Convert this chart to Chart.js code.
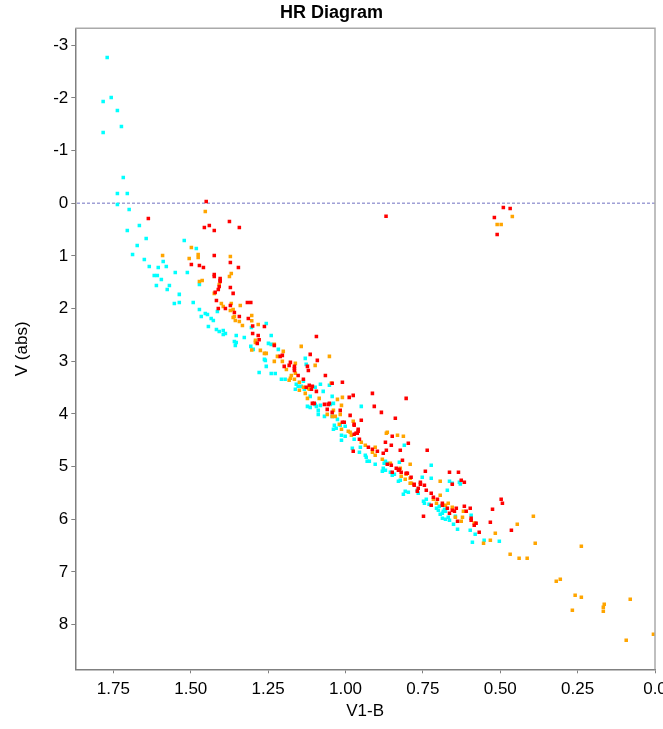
<!DOCTYPE html>
<html><head><meta charset="utf-8">
<script src="https://cdn.jsdelivr.net/npm/chart.js@4.4.0/dist/chart.umd.min.js"></script>
<style>html,body{margin:0;padding:0;background:#fff}#wrap{width:663px;height:729px;position:relative}</style>
</head><body><div id="wrap"><canvas id="c"></canvas></div>
<script>
const cyanX=[1.770,1.757,1.783,1.737,1.724,1.783,1.718,1.737,1.705,1.737,1.699,1.705,
1.666,1.644,1.673,1.521,1.482,1.688,1.650,1.589,1.634,1.605,1.579,1.550,1.511,1.618,1.608,1.595,1.472,1.611,1.569,1.576,1.537,1.553,1.537,1.492,1.472,1.466,1.453,1.446,1.434,1.427,1.414,1.443,1.417,1.408,1.395,1.395,1.388,1.353,1.327,1.359,1.353,1.356,
1.256,1.304,1.240,1.249,1.240,1.298,1.306,1.217,1.262,1.259,1.256,1.130,1.127,1.279,1.240,1.227,1.207,1.195,1.136,1.159,1.153,1.143,1.162,1.133,1.081,1.052,1.072,1.098,1.114,1.043,1.123,1.114,1.098,1.094,1.081,1.049,1.039,1.088,1.088,1.068,1.043,1.026,0.949,1.036,1.030,1.039,1.017,1.001,1.013,1.001,1.013,0.972,0.978,0.955,0.952,0.936,0.933,0.923,0.930,0.904,
0.810,0.875,0.871,0.865,0.881,0.878,0.871,0.826,0.855,0.842,0.849,0.829,0.823,0.723,0.752,0.723,0.664,0.655,0.632,0.768,0.765,0.807,0.797,0.813,0.671,0.748,0.739,0.745,0.730,0.706,0.700,0.697,0.680,0.684,0.677,0.694,0.687,0.687,0.677,0.664,0.668,0.645,0.651,0.638,
0.629,0.594,0.597,0.581,0.590,0.552,0.503];
const cyanY=[-2.765,-2.006,-1.930,-1.759,-1.455,-1.342,-0.488,-0.184,-0.184,0.025,0.120,0.518,
0.423,0.670,0.803,0.708,0.860,0.973,1.068,1.106,1.201,1.220,1.201,1.315,1.315,1.372,1.372,1.448,1.543,1.562,1.562,1.638,1.732,1.903,1.884,1.884,2.017,2.150,2.093,2.112,2.188,2.226,2.055,2.340,2.397,2.435,2.416,2.492,2.473,2.511,2.549,2.625,2.644,2.700,
2.283,2.359,2.511,2.662,2.681,2.776,2.719,2.776,2.966,2.985,3.099,2.947,3.061,3.213,3.232,3.232,3.345,3.345,3.383,3.440,3.478,3.478,3.535,3.535,3.440,3.459,3.573,3.497,3.668,3.668,3.858,3.877,3.820,3.858,3.839,3.820,3.801,3.934,4.010,4.048,4.048,4.105,3.858,4.218,4.275,4.294,4.218,4.237,4.408,4.427,4.503,4.484,4.655,4.731,4.636,4.788,4.826,4.901,4.901,4.958,
4.598,4.939,4.901,4.939,5.091,5.034,5.072,4.920,5.110,5.148,5.167,5.281,5.262,4.977,5.205,5.224,5.281,5.319,5.300,5.452,5.509,5.471,5.490,5.528,5.452,5.660,5.622,5.698,5.717,5.793,5.831,5.755,5.812,5.850,5.850,5.907,5.888,5.983,6.002,6.021,5.964,5.945,6.097,6.192,
5.332,5.926,6.211,6.287,6.438,6.401,6.419];

const orangeX=[1.453,1.498,1.591,1.505,1.476,1.476,1.372,1.369,1.375,1.472,1.463,1.408,1.424,1.401,1.395,1.369,1.340,1.363,1.372,1.359,1.363,1.356,1.343,1.333,
1.303,1.303,1.282,1.291,1.291,1.303,1.275,1.262,1.256,1.230,1.201,1.143,1.220,1.230,1.204,1.162,1.052,1.098,1.191,1.175,1.178,1.182,1.165,1.162,1.149,1.149,1.136,1.130,1.120,1.117,1.046,1.123,1.085,1.026,1.010,1.013,1.039,1.059,1.017,1.043,1.033,0.975,1.020,1.013,0.991,0.985,0.981,0.949,0.936,0.904,0.904,0.913,
0.868,0.865,0.832,0.813,0.881,0.855,0.823,0.791,0.804,0.820,0.807,0.791,0.791,0.787,0.694,0.694,0.716,0.668,0.706,0.655,0.677,0.645,
0.619,0.622,0.626,0.584,0.581,0.393,0.445,0.516,0.532,0.554,0.387,0.238,0.468,0.439,0.413,0.319,0.306,0.258,0.238,0.267,0.164,0.167,0.167,0.080,0.005,0.093,
0.461,0.510,0.497];
const orangeY=[0.158,0.841,0.992,1.049,0.973,1.030,1.011,1.334,1.391,1.486,1.467,1.543,1.713,1.903,1.960,1.903,1.941,2.017,2.036,2.150,2.169,2.226,2.245,2.321,
2.131,2.233,2.302,2.605,2.643,2.789,2.795,2.852,2.852,2.681,2.814,2.719,2.909,3.004,3.004,3.042,2.909,3.080,3.156,3.270,3.326,3.364,3.345,3.231,3.402,3.554,3.497,3.611,3.516,3.535,3.421,3.706,3.706,3.725,3.687,3.839,3.934,4.010,4.010,4.048,4.048,4.142,4.199,4.294,4.332,4.351,4.408,4.541,4.598,4.636,4.788,4.731,
4.370,4.351,4.408,4.427,4.864,4.939,5.034,4.958,5.148,5.186,5.243,5.224,5.319,5.319,5.281,5.546,5.622,5.698,5.698,5.774,5.736,5.964,
5.850,5.964,6.040,6.078,6.078,5.945,6.097,6.268,6.401,6.457,6.457,6.514,6.666,6.742,6.742,7.178,7.140,7.444,7.482,7.729,7.615,7.672,7.748,7.520,8.184,8.298,
0.252,0.404,0.404];

const redX=[1.450,1.637,1.375,1.456,1.440,1.343,1.424,1.424,1.372,1.498,1.472,1.459,1.346,1.424,1.424,1.405,1.405,1.405,1.408,1.372,1.411,1.421,1.363,1.417,1.372,1.411,1.388,1.317,1.359,1.343,1.314,
1.306,1.300,1.262,1.300,1.282,1.279,1.285,1.230,1.094,1.114,1.204,1.211,1.091,1.178,1.182,1.198,1.165,1.165,1.165,1.123,1.153,1.120,1.065,1.136,1.010,1.043,1.117,1.107,1.110,1.127,1.094,0.913,0.975,0.988,0.804,1.107,1.101,1.068,1.056,1.052,0.907,1.059,1.043,1.017,0.985,0.884,0.949,1.010,1.004,0.972,0.972,0.839,0.959,0.959,0.962,0.972,0.966,0.955,0.926,0.913,0.897,0.975,
0.869,
0.849,0.797,0.871,0.852,0.868,0.878,0.823,0.736,0.816,0.865,0.852,0.836,0.829,0.820,0.826,0.804,0.800,0.788,0.849,0.742,0.664,0.635,0.758,0.758,0.778,0.778,0.745,0.765,0.768,0.739,0.723,0.716,0.703,0.655,0.687,0.687,0.723,0.671,0.655,0.648,0.642,0.664,0.638,0.748,
0.490,0.468,0.519,0.510,0.626,0.616,0.497,0.493,0.616,0.597,0.525,0.610,0.594,0.594,0.578,0.584,0.532,0.464,0.568];
const redY=[-0.032,0.290,0.347,0.461,0.423,0.461,0.518,0.992,1.125,1.163,1.182,1.220,1.220,1.353,1.391,1.429,1.467,1.486,1.581,1.600,1.638,1.694,1.713,1.846,1.941,1.998,1.998,1.884,2.074,2.150,2.188,
1.884,2.334,2.340,2.473,2.511,2.593,2.662,2.700,2.530,2.871,2.890,2.909,2.985,3.023,3.080,3.099,3.099,3.137,3.175,3.099,3.270,3.175,3.270,3.345,3.402,3.421,3.459,3.478,3.535,3.497,3.573,3.611,3.649,3.687,3.706,3.801,3.801,3.820,3.820,3.801,3.858,3.915,3.972,3.934,4.029,3.972,4.123,4.161,4.161,4.199,4.218,4.085,4.294,4.332,4.370,4.389,4.370,4.484,4.636,4.674,4.712,4.712,
0.250,
4.427,4.560,4.541,4.598,4.693,4.750,4.693,4.693,4.882,4.958,4.977,5.034,5.072,5.110,5.053,5.129,5.129,5.205,5.110,5.091,5.110,5.110,5.300,5.338,5.338,5.357,5.357,5.414,5.471,5.452,5.509,5.584,5.622,5.338,5.698,5.736,5.736,5.793,5.831,5.850,5.793,5.888,6.040,5.945,
0.082,0.101,0.271,0.594,5.262,5.300,5.622,5.698,5.755,5.793,5.812,5.850,5.983,6.021,6.078,6.116,6.059,6.211,6.249];

const xTicks=[0,0.25,0.5,0.75,1,1.25,1.5,1.75];
const yTicks=[-3,-2,-1,0,1,2,3,4,5,6,7,8];
const xRange=[0,1.873];
const yRange=[-3.32,8.85];
const refLineY=0;

function pts(xs,ys){return xs.map((x,i)=>({x:x,y:ys[i]}));}
const FONT="'Liberation Sans', Arial, sans-serif";
Chart.defaults.font.family=FONT;
Chart.defaults.color='#000';

const framePlugin={id:'frame',afterDraw(chart){
  const a=chart.chartArea,ctx=chart.ctx;
  ctx.save();ctx.strokeStyle='#aaaaaa';ctx.lineWidth=1.5;
  ctx.beginPath();ctx.moveTo(a.left,a.top);ctx.lineTo(a.right,a.top);ctx.lineTo(a.right,a.bottom);ctx.stroke();
  ctx.restore();
}};

const ptOpts={pointStyle:'rect',pointRadius:2.5,pointHoverRadius:2.5,borderWidth:0,pointBorderWidth:0};
new Chart(document.getElementById('c'),{
  type:'scatter',
  data:{datasets:[
    Object.assign({label:'red',data:pts(redX,redY),backgroundColor:'#ff0000',order:1},ptOpts),
    Object.assign({label:'orange',data:pts(orangeX,orangeY),backgroundColor:'#ffa500',order:2},ptOpts),
    Object.assign({label:'cyan',data:pts(cyanX,cyanY),backgroundColor:'#00ffff',order:3},ptOpts),
    {label:'ref',data:[{x:xRange[0],y:refLineY},{x:xRange[1],y:refLineY}],showLine:true,pointRadius:0,
     borderColor:'#7070c0',borderWidth:1,borderDash:[3,2],order:4}
  ]},
  options:{
    responsive:true,maintainAspectRatio:false,animation:false,devicePixelRatio:1,
    layout:{padding:{left:0,right:0,top:0,bottom:0}},
    plugins:{
      legend:{display:false},tooltip:{enabled:false},
      title:{display:true,text:'HR Diagram',font:{size:18,weight:'bold',family:FONT},color:'#000',padding:{top:2,bottom:4.7}}
    },
    scales:{
      x:{type:'linear',reverse:true,min:xRange[0],max:xRange[1],
        afterBuildTicks:s=>{s.ticks=xTicks.map(v=>({value:v}));},
        afterFit:s=>{s.height=59.7;s.paddingLeft=0;s.paddingRight=8;},
        ticks:{autoSkip:false,maxRotation:0,padding:6,font:{size:17},color:'#000',
          callback:v=>v===0?'0.0':Number(v).toFixed(2)},
        grid:{drawOnChartArea:false,drawTicks:true,tickLength:4,color:'#808080'},
        border:{color:'#808080',width:1.5},
        title:{display:true,text:'V1-B',font:{size:17},color:'#000',padding:{top:0,bottom:7}}
      },
      y:{type:'linear',reverse:true,min:yRange[0],max:yRange[1],
        afterBuildTicks:s=>{s.ticks=yTicks.map(v=>({value:v}));},
        afterFit:s=>{s.width=75.3;s.paddingTop=0;s.paddingBottom=0;},
        ticks:{autoSkip:false,padding:3,font:{size:17},color:'#000',callback:v=>String(v)},
        grid:{drawOnChartArea:false,drawTicks:true,tickLength:4,color:'#808080'},
        border:{color:'#808080',width:1.5},
        title:{display:true,text:'V (abs)',font:{size:17},color:'#000',padding:{top:12,bottom:0}}
      }
    }
  },
  plugins:[framePlugin]
});
</script></body></html>
